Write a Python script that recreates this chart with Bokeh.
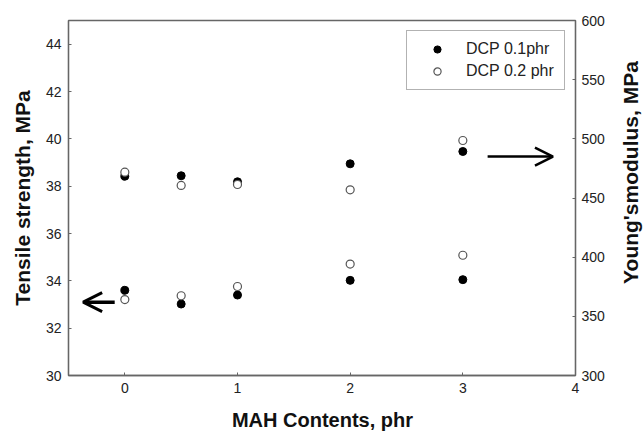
import math

from bokeh.plotting import figure
from bokeh.layouts import row, column
from bokeh.models import (Range1d, LinearAxis, FixedTicker, Legend, LegendItem,
                          Arrow, OpenHead, Label)
from bokeh.embed import file_html
from bokeh.resources import INLINE

# MAH content (phr)
mah = [0, 0.5, 1, 2, 3]

# Tensile strength, MPa (left axis)
ts_dcp01 = [33.6, 33.02, 33.4, 34.02, 34.05]
ts_dcp02 = [33.21, 33.37, 33.76, 34.71, 35.08]

# Young's modulus, MPa (right axis)
ym_dcp01 = [468.4, 468.8, 463.7, 478.9, 489.3]
ym_dcp02 = [471.8, 460.6, 461.4, 456.9, 498.6]

x_ticks = [0, 1, 2, 3, 4]
ts_ticks = [30, 32, 34, 36, 38, 40, 42, 44]
ym_ticks = [300, 350, 400, 450, 500, 550, 600]

# arrows pointing each data group to its axis: (x_start, x_end, y)
ts_arrow = [-0.09, -0.37, 33.1]
ym_arrow = [3.22, 3.80, 485.0]

FRAME = "#666666"
TEXT = "#222222"
FONT = "Liberation Sans"

# page: main plot (612 x 401), a strip on the right for the right-axis
# title and a strip underneath for the x-axis title
MAIN_W, MAIN_H = 612, 401
SIDE_W = 643 - MAIN_W
FOOT_H = 431 - MAIN_H

p = figure(width=MAIN_W, height=MAIN_H, output_backend="svg", toolbar_location=None,
           x_range=Range1d(-0.5, 4), y_range=Range1d(30, 45),
           min_border_left=68, min_border_right=37,
           min_border_top=20, min_border_bottom=26)
p.extra_y_ranges = {"ym": Range1d(300, 600)}

p.xgrid.visible = False
p.ygrid.visible = False
p.outline_line_color = FRAME
p.outline_line_width = 1.3
p.background_fill_color = "white"
p.border_fill_color = "white"


def style_axis(ax, label_standoff):
    ax.axis_line_color = FRAME
    ax.axis_line_width = 1.3
    ax.major_tick_line_color = FRAME
    ax.major_tick_line_width = 1
    ax.major_tick_in = 3
    ax.major_tick_out = 0
    ax.minor_tick_line_color = None
    ax.major_label_text_font = FONT
    ax.major_label_text_font_size = "14px"
    ax.major_label_text_color = TEXT
    ax.major_label_standoff = label_standoff
    ax.axis_label_text_font = FONT
    ax.axis_label_text_font_style = "bold"
    ax.axis_label_text_color = "#111111"


xa = p.xaxis[0]
xa.ticker = FixedTicker(ticks=x_ticks)
style_axis(xa, 7)

ya = p.yaxis[0]
ya.ticker = FixedTicker(ticks=ts_ticks)
ya.axis_label = "Tensile strength, MPa"
style_axis(ya, 7)
ya.axis_label_text_font_size = "21px"
ya.axis_label_standoff = 9

ra = LinearAxis(y_range_name="ym", ticker=FixedTicker(ticks=ym_ticks))
style_axis(ra, 6)
p.add_layout(ra, "right")

# tensile strength points
r1a = p.scatter(mah, ts_dcp01, size=8, marker="circle",
                fill_color="black", line_color="black")
r2a = p.scatter(mah, ts_dcp02, size=8, marker="circle",
                fill_color="white", line_color="#555555", line_width=1.2)

# Young's modulus points
r1b = p.scatter(mah, ym_dcp01, size=8, marker="circle", y_range_name="ym",
                fill_color="black", line_color="black")
r2b = p.scatter(mah, ym_dcp02, size=8, marker="circle", y_range_name="ym",
                fill_color="white", line_color="#555555", line_width=1.2)

p.add_layout(Arrow(end=OpenHead(size=19, line_width=3, line_color="black"),
                   x_start=ts_arrow[0], x_end=ts_arrow[1],
                   y_start=ts_arrow[2], y_end=ts_arrow[2],
                   line_width=3.5, line_color="black"))
p.add_layout(Arrow(end=OpenHead(size=18, line_width=2.5, line_color="black"),
                   x_start=ym_arrow[0], x_end=ym_arrow[1],
                   y_start=ym_arrow[2], y_end=ym_arrow[2],
                   y_range_name="ym",
                   line_width=2.5, line_color="black"))

legend = Legend(items=[LegendItem(label="DCP 0.1phr", renderers=[r1a]),
                       LegendItem(label="DCP 0.2 phr", renderers=[r2a])],
                location="top_right", margin=10, padding=9, spacing=4,
                glyph_width=42, glyph_height=18, label_height=18,
                label_width=89, label_standoff=8,
                label_text_font=FONT, label_text_font_size="16px",
                label_text_color=TEXT,
                border_line_color=FRAME, border_line_width=1.3,
                background_fill_color="white", background_fill_alpha=1)
p.add_layout(legend, "center")


def title_strip(width, height):
    f = figure(width=width, height=height, output_backend="svg",
               toolbar_location=None, x_range=Range1d(0, 1), y_range=Range1d(0, 1),
               x_axis_location=None, y_axis_location=None, min_border=0)
    f.grid.visible = False
    f.outline_line_color = None
    f.background_fill_color = "white"
    f.border_fill_color = "white"
    return f


title_style = dict(x_units="screen", y_units="screen", text_font=FONT,
                   text_font_style="bold", text_color="#111111",
                   text_align="center", text_baseline="middle")

# right-axis title, reading bottom to top
side = title_strip(SIDE_W, MAIN_H)
side.add_layout(Label(x=18, y=MAIN_H - 198, angle=math.pi / 2,
                      text="Young'smodulus, MPa", text_font_size="21px",
                      **title_style))

# x-axis title
foot = title_strip(643, FOOT_H)
foot.add_layout(Label(x=322, y=12, text="MAH Contents, phr",
                      text_font_size="20px", **title_style))

layout = column(row(p, side, spacing=0), foot, spacing=0)

open("out.html", "w").write(file_html(layout, INLINE))
